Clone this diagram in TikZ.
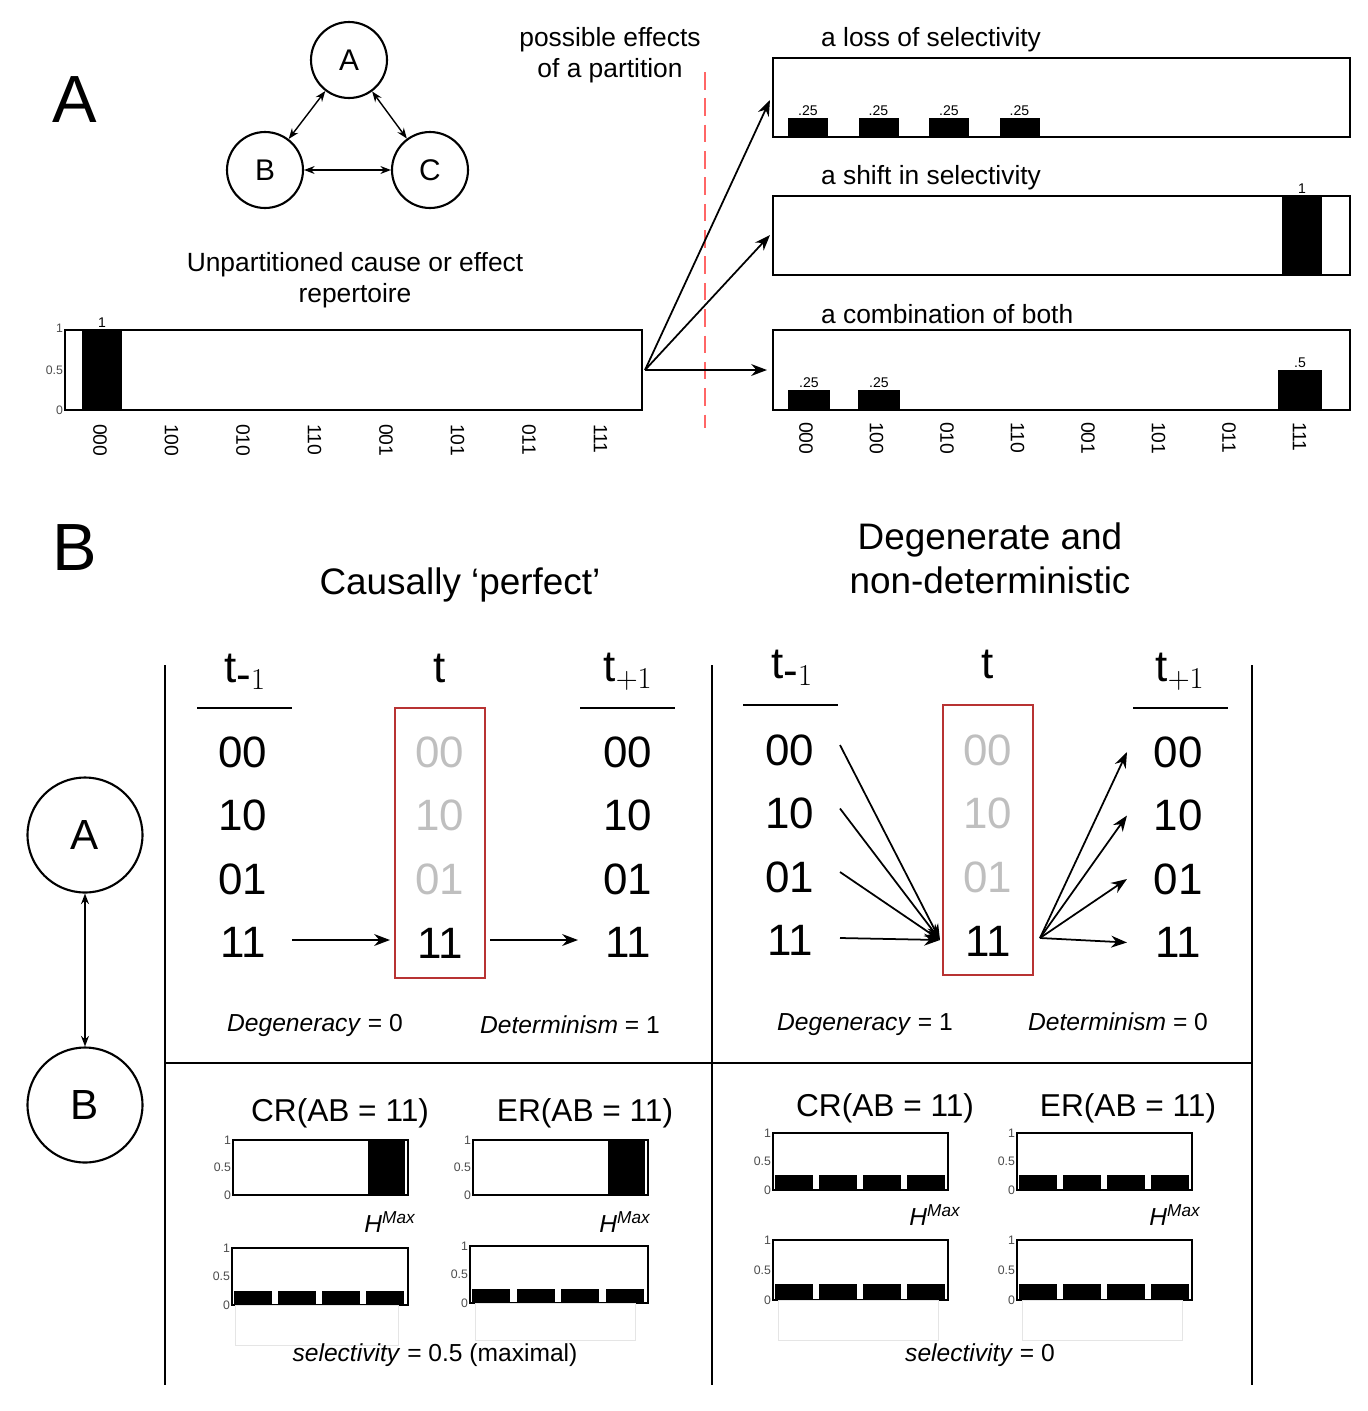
\documentclass[tikz,border=0pt]{standalone}
\usepackage{fontspec}
\setmainfont{Liberation Sans}
\usetikzlibrary{positioning, arrows.meta, calc}

% small repertoire box with y ticks
\newcommand{\repbox}[5]{%
  \draw[line width=1.6pt] (#1,#2) rectangle (#3,#4);
  \node[axlab, anchor=east] at (#1,#2) {1};
  \node[axlab, anchor=east] at (#1,{(#2+#4)/2}) {0.5};
  \node[axlab, anchor=east] at (#1,#4) {0};
  \coordinate (#5) at (#1,#4);}

\begin{document}
\begin{tikzpicture}[x=0.02cm, y=-0.02cm,
    state/.style={draw, circle, line width=1.2pt, inner sep=0pt},
    dbl/.style={{Stealth[length=6pt]}-{Stealth[length=6pt]}, line width=0.8pt},
    arr/.style={-{Stealth[length=9pt]}, line width=1pt},
    axlab/.style={font=\fontsize{7}{7}\selectfont, text=black!70, inner sep=1pt},
    barlab/.style={font=\fontsize{8}{8}\selectfont, inner sep=1pt, anchor=south},
    xlab/.style={font=\fontsize{11}{11}\selectfont, rotate=-90, anchor=west},
    num/.style={font=\fontsize{25}{25}\selectfont},
    grey/.style={num, text=black!25},
    title/.style={font=\fontsize{15}{18}\selectfont, align=center},
    eqn/.style={font=\fontsize{14}{14}\selectfont},
    big/.style={font=\fontsize{21}{25}\selectfont, align=center},
    panel/.style={font=\fontsize{38}{38}\selectfont}]
  \useasboundingbox (0,0) rectangle (1368,1411);

  % ---------- part A
  \node[panel] (pA) at (75,100) {A};
  \node[state, minimum size=1.52cm, font=\fontsize{17}{17}\selectfont] (nA) at (349,60) {A};
  \node[state, minimum size=1.52cm, font=\fontsize{17}{17}\selectfont] (nB) at (265,170) {B};
  \node[state, minimum size=1.52cm, font=\fontsize{17}{17}\selectfont] (nC) at (430,170) {C};
  \draw[dbl] (nA) -- (nB);
  \draw[dbl] (nA) -- (nC);
  \draw[dbl] (nB) -- (nC);

  \node[title] (part) at (610,55) {possible effects\\of a partition};
  \draw[red!60, dash pattern=on 10pt off 5pt, line width=1.2pt] (705,72) -- (705,428);

  \node[title] (unp) at (355,280) {Unpartitioned cause or effect\\repertoire};
  \draw[line width=1.6pt] (65,330) rectangle (642,410);
  \fill (82,330) rectangle (122,410);
  \node[barlab] at (102,330) {1};
  \node[axlab, anchor=east] at (65,328) {1};
  \node[axlab, anchor=east] at (65,370) {0.5};
  \node[axlab, anchor=east] at (65,410) {0};
  \foreach \s [count=\i from 0] in {000,100,010,110,001,101,011,111}
    \node[xlab] at ({100+71.5*\i},418) {\s};
  \coordinate (src) at (645,370);

  % right charts
  \node[title, anchor=south west] (t1) at (815,58) {a loss of selectivity};
  \draw[line width=1.6pt] (773,58) rectangle (1350,137);
  \foreach \i in {0,1,2,3} {
    \fill ({788+70.5*\i},118) rectangle ({828+70.5*\i},137);
    \node[barlab] at ({808+70.5*\i},118) {.25};}
  \coordinate (c1) at (770,100);

  \node[title, anchor=south west] (t2) at (815,196) {a shift in selectivity};
  \draw[line width=1.6pt] (773,196) rectangle (1350,275);
  \fill (1282,196) rectangle (1322,275);
  \node[barlab] at (1302,196) {1};
  \coordinate (c2) at (770,235);

  \node[title, anchor=south west] (t3) at (815,330) {a combination of both};
  \draw[line width=1.6pt] (773,330) rectangle (1350,410);
  \fill (788,390) rectangle (830,410);
  \fill (858,390) rectangle (900,410);
  \fill (1278,370) rectangle (1322,410);
  \node[barlab] at (809,390) {.25};
  \node[barlab] at (879,390) {.25};
  \node[barlab] at (1300,370) {.5};
  \foreach \s [count=\i from 0] in {000,100,010,110,001,101,011,111}
    \node[xlab] at ({806+70.5*\i},416) {\s};
  \coordinate (c3) at (767,370);

  \draw[arr] (src) -- (c1);
  \draw[arr] (src) -- (c2);
  \draw[arr] (src) -- (c3);

  % ---------- part B
  \node[panel] (pB) at (75,548) {B};
  \node[big] (perf) at (460,585) {Causally ‘perfect’};
  \node[big] (degen) at (990,558) {Degenerate and\\non-deterministic};

  \draw[line width=1.4pt] (165,665) -- (165,1385);
  \draw[line width=1.4pt] (712,665) -- (712,1385);
  \draw[line width=1.4pt] (1252,665) -- (1252,1385);
  \draw[line width=1.4pt] (165,1063) -- (1252,1063);

  \node[state, minimum size=2.3cm, font=\fontsize{24}{24}\selectfont] (bA) at (85,835) {A};
  \node[state, minimum size=2.3cm, font=\fontsize{24}{24}\selectfont] (bB) at (85,1105) {B};
  \draw[dbl, line width=1pt] (bA) -- (bB);

  % left panel
  \node[num] (lh1) at (245,672) {t$_{\mbox{-}1}$};
  \node[num] (lh2) at (440,668) {t};
  \node[num] (lh3) at (628,672) {t$_{+1}$};
  \draw[line width=1.2pt] (197,708) -- (292,708);
  \draw[line width=1.2pt] (580,708) -- (675,708);
  \foreach \s [count=\i from 0] in {00,10,01,11} {
    \node[num] (lp\i) at (243,{752+63.5*\i}) {\s};
    \node[num] (lf\i) at (628,{752+63.5*\i}) {\s};}
  \foreach \s [count=\i from 0] in {00,10,01} \node[grey] (lc\i) at (440,{752+63.5*\i}) {\s};
  \node[num] (lc3) at (440,943) {11};
  \draw[red!65!black!80, line width=1.5pt] (395,708) rectangle (485,978);
  \draw[arr] (292,940) -- (390,940);
  \draw[arr] (490,940) -- (578,940);
  \node[eqn] (dg1) at (315,1025) {\textit{Degeneracy} = 0};
  \node[eqn] (dt1) at (570,1025) {\textit{Determinism} = 1};

  % right panel
  \node[num] (rh1) at (792,668) {t$_{\mbox{-}1}$};
  \node[num] (rh2) at (988,664) {t};
  \node[num] (rh3) at (1180,672) {t$_{+1}$};
  \draw[line width=1.2pt] (743,705) -- (838,705);
  \draw[line width=1.2pt] (1133,708) -- (1228,708);
  \foreach \s [count=\i from 0] in {00,10,01,11} {
    \node[num] (rp\i) at (790,{750+63.5*\i}) {\s};
    \node[num] (rf\i) at (1178,{752+63.5*\i}) {\s};}
  \foreach \s [count=\i from 0] in {00,10,01} \node[grey] (rc\i) at (988,{750+63.5*\i}) {\s};
  \node[num] (rc3) at (988,941) {11};
  \draw[red!65!black!80, line width=1.5pt] (943,705) rectangle (1033,975);
  \coordinate (rin) at (940,940);
  \coordinate (rout) at (1040,938);
  \foreach \i in {0,1,2} \draw[arr] (840,{745+63.5*\i}) -- (rin);
  \draw[arr] (840,938) -- (rin);
  \foreach \i in {0,1,2,3} \draw[arr] (rout) -- (1127,{752+63.5*\i});
  \node[eqn] (dg2) at (865,1025) {\textit{Degeneracy} = 1};
  \node[eqn] (dt2) at (1118,1022) {\textit{Determinism} = 0};

  % bottom left repertoires
  \node[font=\fontsize{18}{18}\selectfont] (cr1) at (340,1113) {CR(AB = 11)};
  \node[font=\fontsize{18}{18}\selectfont] (er1) at (585,1113) {ER(AB = 11)};
  \repbox{233}{1140}{408}{1195}{q1}
  \fill (368,1140) rectangle (405,1195);
  \repbox{473}{1140}{648}{1195}{q2}
  \fill (608,1140) rectangle (645,1195);
  \node[eqn] (hm1) at (390,1222) {\textit{H}$^{\mathit{Max}}$};
  \node[eqn] (hm2) at (625,1222) {\textit{H}$^{\mathit{Max}}$};
  \repbox{232}{1248}{408}{1305}{q3}
  \repbox{470}{1246}{648}{1303}{q4}
  \foreach \i in {0,1,2,3} {
    \fill ({234+44*\i},1291) rectangle ({272+44*\i},1305);
    \fill ({472+44.5*\i},1289) rectangle ({510+44.5*\i},1303);}
  \draw[black!10] (235,1305) rectangle (398,1345);
  \draw[black!10] (475,1303) rectangle (635,1340);
  \node[eqn] (sel1) at (435,1355) {\textit{selectivity} = 0.5 (maximal)};

  % bottom right repertoires
  \node[font=\fontsize{18}{18}\selectfont] (cr2) at (885,1108) {CR(AB = 11)};
  \node[font=\fontsize{18}{18}\selectfont] (er2) at (1128,1108) {ER(AB = 11)};
  \repbox{773}{1133}{948}{1190}{q5}
  \repbox{1017}{1133}{1192}{1190}{q6}
  \node[eqn] (hm3) at (935,1215) {\textit{H}$^{\mathit{Max}}$};
  \node[eqn] (hm4) at (1175,1215) {\textit{H}$^{\mathit{Max}}$};
  \repbox{773}{1240}{948}{1300}{q7}
  \repbox{1017}{1240}{1192}{1300}{q8}
  \foreach \i in {0,1,2,3} {
    \fill ({775+44*\i},1175) rectangle ({813+44*\i},1190);
    \fill ({1019+44*\i},1175) rectangle ({1057+44*\i},1190);
    \fill ({775+44*\i},1284) rectangle ({813+44*\i},1300);
    \fill ({1019+44*\i},1284) rectangle ({1057+44*\i},1300);}
  \draw[black!10] (778,1300) rectangle (938,1340);
  \draw[black!10] (1022,1300) rectangle (1182,1340);
  \node[eqn] (sel2) at (980,1355) {\textit{selectivity} = 0};
\end{tikzpicture}
\end{document}
